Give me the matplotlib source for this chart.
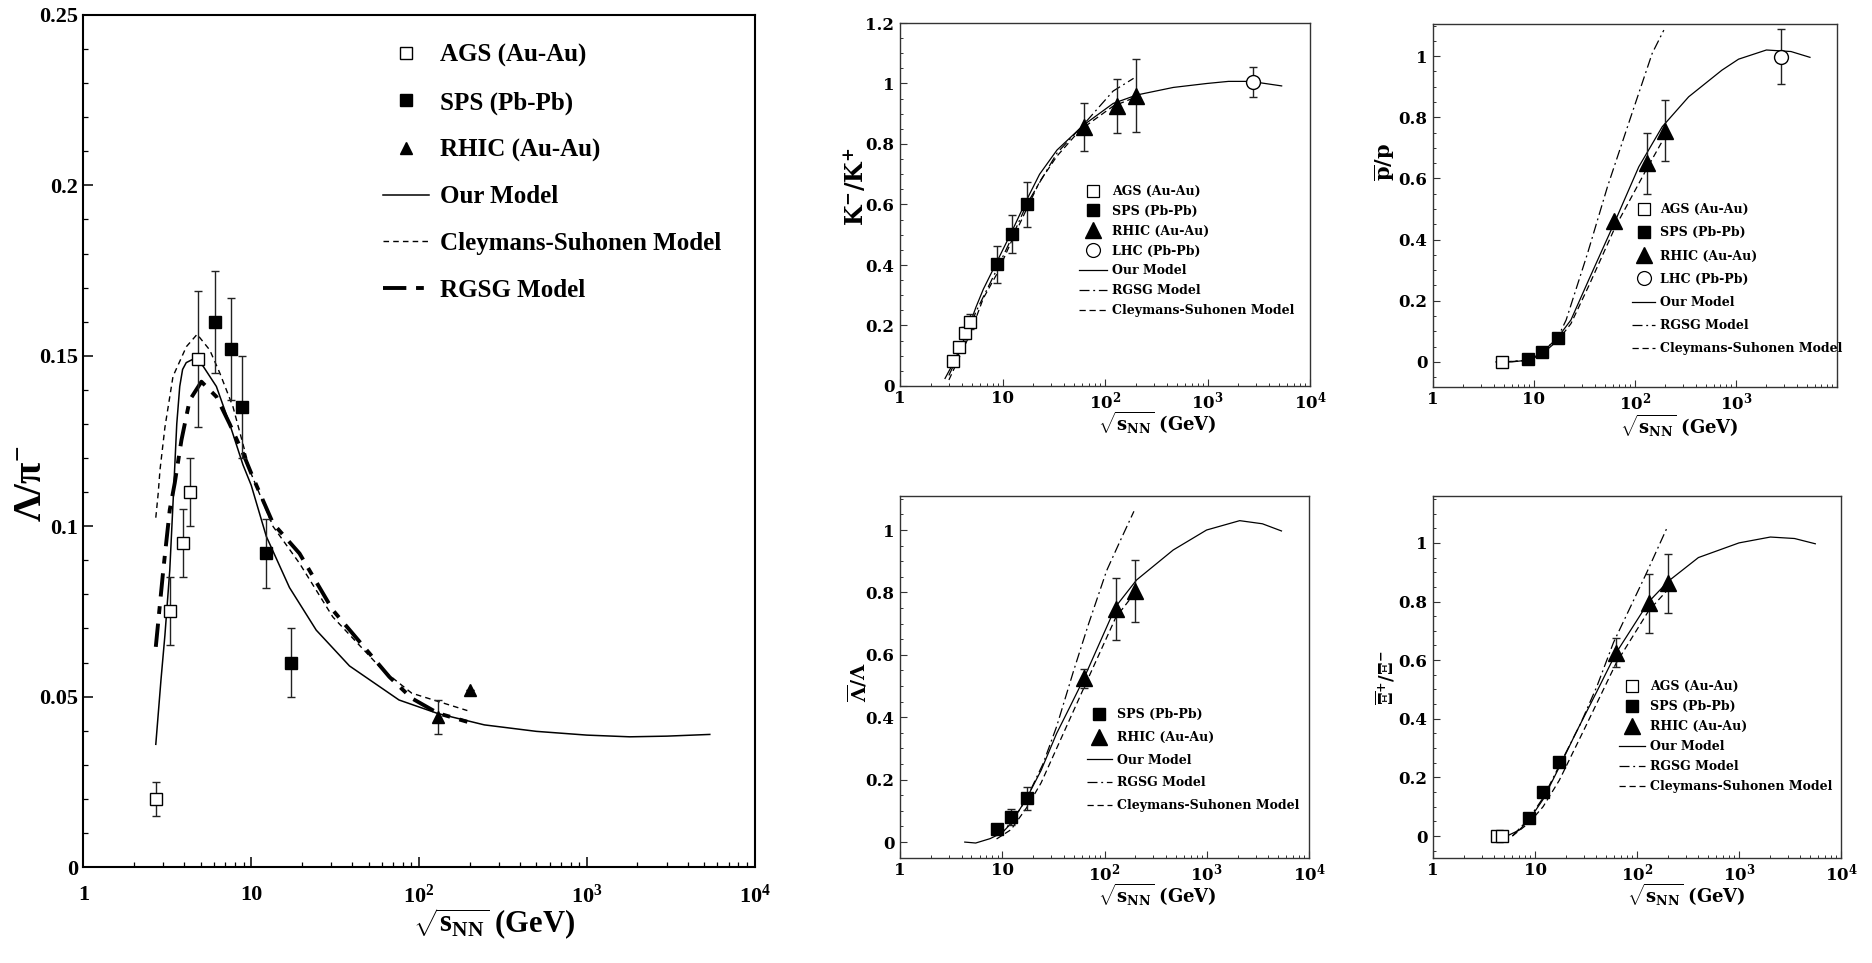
import numpy as np
import matplotlib
matplotlib.use("Agg")
import matplotlib.pyplot as plt
from matplotlib.lines import Line2D
from matplotlib.ticker import FixedLocator, LogLocator, MultipleLocator, NullFormatter

# ---------- DATA ----------
# Lambda / pi-  (left panel)
lp_ags_x = [2.7, 3.3, 3.9, 4.3, 4.8]
lp_ags_y = [0.020, 0.075, 0.095, 0.110, 0.149]
lp_ags_err = [0.005, 0.010, 0.010, 0.010, 0.020]
lp_sps_x = [6.1, 7.6, 8.8, 12.3, 17.3]
lp_sps_y = [0.160, 0.152, 0.135, 0.092, 0.060]
lp_sps_err = [0.015, 0.015, 0.015, 0.010, 0.010]
lp_rhic_x = [130, 200]
lp_rhic_y = [0.044, 0.052]
lp_rhic_err = [0.005, 0.0]
lp_our_x = [2.7, 2.9, 3.06, 3.27, 3.46, 3.6, 3.75, 3.9, 4.1, 4.5, 5.16, 6.2, 7.44, 8.93, 10,
            12.3, 16.9, 24.4, 38.5, 76, 130, 245, 500, 1000, 1800, 3000, 5400]
lp_our_y = [0.036, 0.055, 0.068, 0.087, 0.112, 0.130, 0.141, 0.146, 0.148, 0.149, 0.147, 0.141,
            0.130, 0.118, 0.112, 0.097, 0.082, 0.0695, 0.059, 0.049, 0.045, 0.0417, 0.0398,
            0.0387, 0.0382, 0.0384, 0.0389]
lp_cs_x = [2.7, 2.79, 2.86, 3.06, 3.42, 4.11, 4.76, 5.66, 6.49, 7.79, 9.35, 9.78, 13.5, 19.4,
           30.6, 60.7, 90.5, 194]
lp_cs_y = [0.1025, 0.1096, 0.1165, 0.129, 0.144, 0.1527, 0.1563, 0.1517, 0.145, 0.135, 0.1204,
           0.1165, 0.0999, 0.0891, 0.0734, 0.0578, 0.051, 0.0459]
lp_rg_x = [2.7, 2.99, 3.27, 3.5, 3.84, 4.3, 5.05, 6.2, 7.44, 8.93, 10.2, 13.5, 19.4, 30.6, 66.5,
           90.5, 130, 194]
lp_rg_y = [0.0646, 0.087, 0.1048, 0.1126, 0.1253, 0.137, 0.1424, 0.138, 0.130, 0.1214, 0.1145,
           0.1008, 0.092, 0.0754, 0.0558, 0.0495, 0.0451, 0.0426]

# K- / K+
kk_ags_x = [3.32, 3.8, 4.3, 4.85]
kk_ags_y = [0.083, 0.13, 0.176, 0.213]
kk_ags_err = [0.01, 0.015, 0.02, 0.025]
kk_sps_x = [8.8, 12.3, 17.2]
kk_sps_y = [0.402, 0.502, 0.600]
kk_sps_err = [0.06, 0.063, 0.075]
kk_rhic_x = [62.4, 130, 200]
kk_rhic_y = [0.857, 0.926, 0.960]
kk_rhic_err = [0.08, 0.09, 0.12]
kk_lhc_x = [2760]
kk_lhc_y = [1.006]
kk_lhc_err = [0.05]
kk_our_x = [2.75, 3.3, 4.3, 5.5, 6.5, 8.8, 12.3, 17.2, 23, 34, 62, 120, 204, 464, 982, 1600, 2640, 5290]
kk_our_y = [0.025, 0.075, 0.16, 0.26, 0.32, 0.41, 0.51, 0.615, 0.70, 0.78, 0.863, 0.934, 0.962,
            0.987, 1.0, 1.007, 1.007, 0.992]
kk_rg_x = [3.0, 4.3, 5.5, 8.8, 12.3, 17.2, 34, 62, 120, 190]
kk_rg_y = [0.035, 0.15, 0.245, 0.385, 0.49, 0.60, 0.77, 0.865, 0.975, 1.017]
kk_cs_x = [3.0, 4.8, 6.5, 8.8, 12.3, 17.2, 23, 34, 57, 120, 200]
kk_cs_y = [0.02, 0.17, 0.29, 0.37, 0.48, 0.585, 0.675, 0.76, 0.846, 0.925, 0.955]

# pbar / p
pp_ags_x = [4.86]
pp_ags_y = [0.0]
pp_ags_err = [0.0]
pp_sps_x = [8.8, 12.0, 17.2]
pp_sps_y = [0.009, 0.032, 0.077]
pp_sps_err = [0.0, 0.0, 0.0]
pp_rhic_x = [62.4, 130, 200]
pp_rhic_y = [0.461, 0.649, 0.756]
pp_rhic_err = [0.0, 0.1, 0.1]
pp_lhc_x = [2760]
pp_lhc_y = [0.998]
pp_lhc_err = [0.09]
pp_our_x = [4.2, 6, 8.8, 12, 17.2, 23.2, 35, 63.5, 109, 186, 340, 725, 1060, 2000, 3500, 5400]
pp_our_y = [0.0, 0.0, 0.006, 0.03, 0.08, 0.137, 0.27, 0.46, 0.638, 0.769, 0.867, 0.954, 0.99,
            1.02, 1.015, 0.996]
pp_rg_x = [4.8, 8.8, 12, 17.2, 20.8, 33.9, 53.4, 88.7, 148, 193]
pp_rg_y = [0.0, 0.005, 0.03, 0.08, 0.137, 0.355, 0.573, 0.791, 1.009, 1.085]
pp_cs_x = [4.8, 8.8, 12, 17.2, 23.2, 35, 63.5, 130, 200]
pp_cs_y = [0.0, 0.004, 0.026, 0.07, 0.125, 0.25, 0.44, 0.63, 0.74]

# Lambdabar / Lambda
ll_sps_x = [8.8, 12.2, 17.3]
ll_sps_y = [0.041, 0.081, 0.140]
ll_sps_err = [0.0, 0.025, 0.036]
ll_rhic_x = [62.4, 130, 200]
ll_rhic_y = [0.525, 0.746, 0.805]
ll_rhic_err = [0.03, 0.1, 0.1]
ll_our_x = [4.3, 5.5, 7.6, 10, 12.2, 17.3, 24, 34, 46, 62, 129, 206, 470, 996, 2100, 3500, 5380]
ll_our_y = [0.0, -0.003, 0.011, 0.03, 0.06, 0.14, 0.23, 0.348, 0.434, 0.52, 0.755, 0.84, 0.936,
            1.0, 1.03, 1.02, 0.997]
ll_rg_x = [8.8, 12.2, 17.3, 25, 34, 50, 70, 105, 140, 194]
ll_rg_y = [0.02, 0.06, 0.14, 0.25, 0.37, 0.55, 0.70, 0.87, 0.96, 1.06]
ll_cs_x = [8.8, 12.2, 17.3, 24, 34, 62, 129, 200]
ll_cs_y = [0.01, 0.04, 0.11, 0.19, 0.30, 0.49, 0.72, 0.80]

# Xibar+ / Xi-
xx_ags_x = [4.2, 4.7]
xx_ags_y = [0.0, 0.0]
xx_ags_err = [0.0, 0.0]
xx_sps_x = [8.75, 11.9, 17.3]
xx_sps_y = [0.063, 0.151, 0.254]
xx_sps_err = [0.0, 0.0, 0.01]
xx_rhic_x = [62.4, 130, 200]
xx_rhic_y = [0.626, 0.794, 0.862]
xx_rhic_err = [0.05, 0.1, 0.1]
xx_our_x = [5.3, 7, 8.75, 12, 17.3, 25, 40, 62.5, 131, 204, 400, 1000, 2030, 3500, 5600]
xx_our_y = [0.0, 0.02, 0.055, 0.125, 0.235, 0.35, 0.49, 0.625, 0.80, 0.87, 0.95, 1.0, 1.02,
            1.015, 0.997]
xx_rg_x = [6, 8.75, 12, 17.3, 27.7, 40.4, 58.8, 85.8, 125, 196]
xx_rg_y = [0.0, 0.06, 0.13, 0.24, 0.38, 0.51, 0.66, 0.78, 0.90, 1.05]
xx_cs_x = [6, 8.75, 12, 17.3, 30, 62.5, 131, 200]
xx_cs_y = [0.0, 0.045, 0.10, 0.19, 0.36, 0.59, 0.77, 0.84]

x_ticks = [1, 10, 100, 1000, 10000]
x_labels = ["1", "10", r"$\mathdefault{10^{2}}$", r"$\mathdefault{10^{3}}$", r"$\mathdefault{10^{4}}$"]
x_labels_tr = ["1", "10", r"$\mathdefault{10^{2}}$", r"$\mathdefault{10^{3}}$", ""]
lp_yticks = [0, 0.05, 0.1, 0.15, 0.2, 0.25]
lp_ylabels = ["0", "0.05", "0.1", "0.15", "0.2", "0.25"]
kk_yticks = [0, 0.2, 0.4, 0.6, 0.8, 1.0, 1.2]
kk_ylabels = ["0", "0.2", "0.4", "0.6", "0.8", "1", "1.2"]
r_yticks = [0, 0.2, 0.4, 0.6, 0.8, 1.0]
r_ylabels = ["0", "0.2", "0.4", "0.6", "0.8", "1"]

# ---------- STYLE ----------
plt.rcParams["mathtext.fontset"] = "custom"
plt.rcParams["mathtext.rm"] = "Liberation Serif:bold"
plt.rcParams["mathtext.it"] = "Liberation Serif:bold:italic"
plt.rcParams["mathtext.bf"] = "Liberation Serif:bold"

LFONT = "Liberation Serif"
RFONT = "DejaVu Serif"
K = "black"

W, H = 1872, 963
fig = plt.figure(figsize=(W / 100, H / 100), dpi=100)


def add_panel(l, t, r, b):
    return fig.add_axes([l / W, 1 - b / H, (r - l) / W, (b - t) / H])


def setup(ax, font, tsize, ylim, yticks, ylabels, yminor, xlabels, big):
    ax.set_xscale("log")
    ax.set_xlim(1, 1e4)
    ax.set_ylim(*ylim)
    ax.xaxis.set_major_locator(FixedLocator(x_ticks))
    ax.set_xticks(x_ticks, xlabels, fontfamily=font, fontweight="bold", fontsize=tsize)
    ax.xaxis.set_minor_locator(LogLocator(base=10, subs=np.arange(2, 10), numticks=20))
    ax.xaxis.set_minor_formatter(NullFormatter())
    ax.set_yticks(yticks, ylabels, fontfamily=font, fontweight="bold", fontsize=tsize)
    ax.yaxis.set_minor_locator(MultipleLocator(yminor))
    if big:
        ax.tick_params(which="major", direction="in", length=7, width=1.1)
        ax.tick_params(which="minor", direction="in", length=3.5, width=0.9)
        ax.tick_params(axis="x", pad=13)
        ax.tick_params(axis="y", pad=4)
        for s in ax.spines.values():
            s.set_linewidth(1.5)
    else:
        ax.tick_params(which="major", direction="in", length=5, width=0.8, color="#333333")
        ax.tick_params(which="minor", direction="in", length=2.5, width=0.7, color="#333333")
        ax.tick_params(axis="x", pad=3)
        ax.tick_params(axis="y", pad=4)
        for s in ax.spines.values():
            s.set_linewidth(1.0)
            s.set_color("#333333")
    ax.tick_params(which="both", top=False, right=False)


def pts(ax, x, y, err, marker, face, ms, cap):
    ax.errorbar(x, y, yerr=err, fmt=marker, mfc=face, mec=K, ms=ms, mew=1.0,
                ecolor="#222222", elinewidth=1.0, capsize=cap, capthick=1.0, zorder=3)


# ---------- LEFT PANEL: Lambda / pi- ----------
ax = add_panel(83.4, 15, 754.7, 867)
setup(ax, LFONT, 16, (0, 0.25), lp_yticks, lp_ylabels, 0.01, x_labels, True)
ax.plot(lp_our_x, lp_our_y, color=K, lw=1.1)
ax.plot(lp_cs_x, lp_cs_y, color=K, lw=1.0, dashes=(4, 3))
ax.plot(lp_rg_x, lp_rg_y, color=K, lw=2.8, dashes=(6, 2.5, 2, 2.5))
pts(ax, lp_ags_x, lp_ags_y, lp_ags_err, "s", "white", 8.5, 3)
pts(ax, lp_sps_x, lp_sps_y, lp_sps_err, "s", K, 8.5, 3)
pts(ax, lp_rhic_x, lp_rhic_y, lp_rhic_err, "^", K, 9, 3)
ax.set_xlabel(r"$\mathdefault{\sqrt{s_{NN}}}$ (GeV)", fontfamily=LFONT, fontweight="bold", fontsize=22)
ax.xaxis.set_label_coords(0.612, -0.046)
ax.set_ylabel(r"$\mathdefault{\Lambda/\pi^{-}}$", fontfamily=LFONT, fontweight="bold", fontsize=28)
ax.yaxis.set_label_coords(-0.05, 0.45)
h = [Line2D([], [], ls="none", marker="s", mfc="white", mec=K, ms=8),
     Line2D([], [], ls="none", marker="s", mfc=K, mec=K, ms=8),
     Line2D([], [], ls="none", marker="^", mfc=K, mec=K, ms=9),
     Line2D([], [], color=K, lw=1.1),
     Line2D([], [], color=K, lw=1.0, dashes=(4, 3)),
     Line2D([], [], color=K, lw=2.8, dashes=(6, 2.5, 2, 2.5))]
lab = ["AGS (Au-Au)", "SPS (Pb-Pb)", "RHIC (Au-Au)", "Our Model", "Cleymans-Suhonen Model", "RGSG Model"]
ax.legend(h, lab, loc="upper left", bbox_to_anchor=(0.446, 0.966), frameon=False,
          prop={"family": LFONT, "weight": "bold", "size": 18}, handlelength=1.85,
          handletextpad=0.45, labelspacing=0.95, borderpad=0, borderaxespad=0)


def right_lines(ax, ox, oy, rx, ry, cx, cy):
    ax.plot(ox, oy, color=K, lw=0.9)
    ax.plot(rx, ry, color=K, lw=0.9, dashes=(8, 3, 1.5, 3))
    ax.plot(cx, cy, color=K, lw=0.9, dashes=(5, 3))


def right_legend(ax, keys, anchor, hl, ls):
    allh = {
        "AGS": (Line2D([], [], ls="none", marker="s", mfc="white", mec=K, ms=9, mew=0.9), "AGS (Au-Au)"),
        "SPS": (Line2D([], [], ls="none", marker="s", mfc=K, mec=K, ms=9), "SPS (Pb-Pb)"),
        "RHIC": (Line2D([], [], ls="none", marker="^", mfc=K, mec=K, ms=11), "RHIC (Au-Au)"),
        "LHC": (Line2D([], [], ls="none", marker="o", mfc="white", mec=K, ms=10, mew=0.9), "LHC (Pb-Pb)"),
        "our": (Line2D([], [], color=K, lw=0.9), "Our Model"),
        "rg": (Line2D([], [], color=K, lw=0.9, dashes=(8, 3, 1.5, 3)), "RGSG Model"),
        "cs": (Line2D([], [], color=K, lw=0.9, dashes=(5, 3)), "Cleymans-Suhonen Model"),
    }
    hh = [allh[k][0] for k in keys]
    ll = [allh[k][1] for k in keys]
    ax.legend(hh, ll, loc="upper left", bbox_to_anchor=anchor, frameon=False,
              prop={"family": RFONT, "weight": "bold", "size": 9}, handlelength=hl,
              handletextpad=0.4, labelspacing=ls, borderpad=0, borderaxespad=0)


def right_labels(ax, ylab, ysize, ycoords, xcoords):
    ax.set_xlabel(r"$\mathdefault{\sqrt{s_{NN}}}$ (GeV)", fontfamily=RFONT, fontweight="bold", fontsize=13)
    ax.xaxis.set_label_coords(*xcoords)
    ax.set_ylabel(ylab, fontfamily=RFONT, fontweight="bold", fontsize=ysize)
    ax.yaxis.set_label_coords(*ycoords)


# ---------- K- / K+ ----------
ax = add_panel(900, 23, 1310, 386)
setup(ax, RFONT, 12, (0, 1.2), kk_yticks, kk_ylabels, 0.05, x_labels, False)
right_lines(ax, kk_our_x, kk_our_y, kk_rg_x, kk_rg_y, kk_cs_x, kk_cs_y)
pts(ax, kk_ags_x, kk_ags_y, kk_ags_err, "s", "white", 9, 3)
pts(ax, kk_sps_x, kk_sps_y, kk_sps_err, "s", K, 9, 3)
pts(ax, kk_rhic_x, kk_rhic_y, kk_rhic_err, "^", K, 11, 3)
pts(ax, kk_lhc_x, kk_lhc_y, kk_lhc_err, "o", "white", 10, 3)
right_labels(ax, r"$\mathdefault{K^{-}/K^{+}}$", 17, (-0.076, 0.55), (0.627, -0.065))
right_legend(ax, ["AGS", "SPS", "RHIC", "LHC", "our", "rg", "cs"], (0.437, 0.554), 2.2, 0.55)

# ---------- pbar / p ----------
ax = add_panel(1433, 24, 1837, 387)
setup(ax, RFONT, 12, (-0.082, 1.105), r_yticks, r_ylabels, 0.05, x_labels_tr, False)
right_lines(ax, pp_our_x, pp_our_y, pp_rg_x, pp_rg_y, pp_cs_x, pp_cs_y)
pts(ax, pp_ags_x, pp_ags_y, pp_ags_err, "s", "white", 9, 3)
pts(ax, pp_sps_x, pp_sps_y, pp_sps_err, "s", K, 9, 3)
pts(ax, pp_rhic_x, pp_rhic_y, pp_rhic_err, "^", K, 11, 3)
pts(ax, pp_lhc_x, pp_lhc_y, pp_lhc_err, "o", "white", 10, 3)
right_labels(ax, r"$\mathdefault{\overline{p}/p}$", 15, (-0.09, 0.62), (0.61, -0.07))
right_legend(ax, ["AGS", "SPS", "RHIC", "LHC", "our", "rg", "cs"], (0.493, 0.507), 1.85, 0.82)

# ---------- Lambdabar / Lambda ----------
ax = add_panel(900, 496, 1309, 858)
setup(ax, RFONT, 12, (-0.051, 1.109), r_yticks, r_ylabels, 0.05, x_labels, False)
right_lines(ax, ll_our_x, ll_our_y, ll_rg_x, ll_rg_y, ll_cs_x, ll_cs_y)
pts(ax, ll_sps_x, ll_sps_y, ll_sps_err, "s", K, 9, 3)
pts(ax, ll_rhic_x, ll_rhic_y, ll_rhic_err, "^", K, 11, 3)
right_labels(ax, r"$\mathdefault{\overline{\Lambda}/\Lambda}$", 14, (-0.074, 0.486), (0.63, -0.065))
right_legend(ax, ["SPS", "RHIC", "our", "rg", "cs"], (0.457, 0.414), 2.0, 0.78)

# ---------- Xibar / Xi ----------
ax = add_panel(1433, 496, 1841, 858)
setup(ax, RFONT, 12, (-0.075, 1.16), r_yticks, r_ylabels, 0.05, x_labels, False)
right_lines(ax, xx_our_x, xx_our_y, xx_rg_x, xx_rg_y, xx_cs_x, xx_cs_y)
pts(ax, xx_ags_x, xx_ags_y, xx_ags_err, "s", "white", 9, 3)
pts(ax, xx_sps_x, xx_sps_y, xx_sps_err, "s", K, 9, 3)
pts(ax, xx_rhic_x, xx_rhic_y, xx_rhic_err, "^", K, 11, 3)
right_labels(ax, r"$\mathdefault{\overline{\Xi}^{+}/\Xi^{-}}$", 13, (-0.087, 0.497), (0.62, -0.065))
right_legend(ax, ["AGS", "SPS", "RHIC", "our", "rg", "cs"], (0.456, 0.492), 2.1, 0.56)

fig.savefig("out.png", dpi=100)
